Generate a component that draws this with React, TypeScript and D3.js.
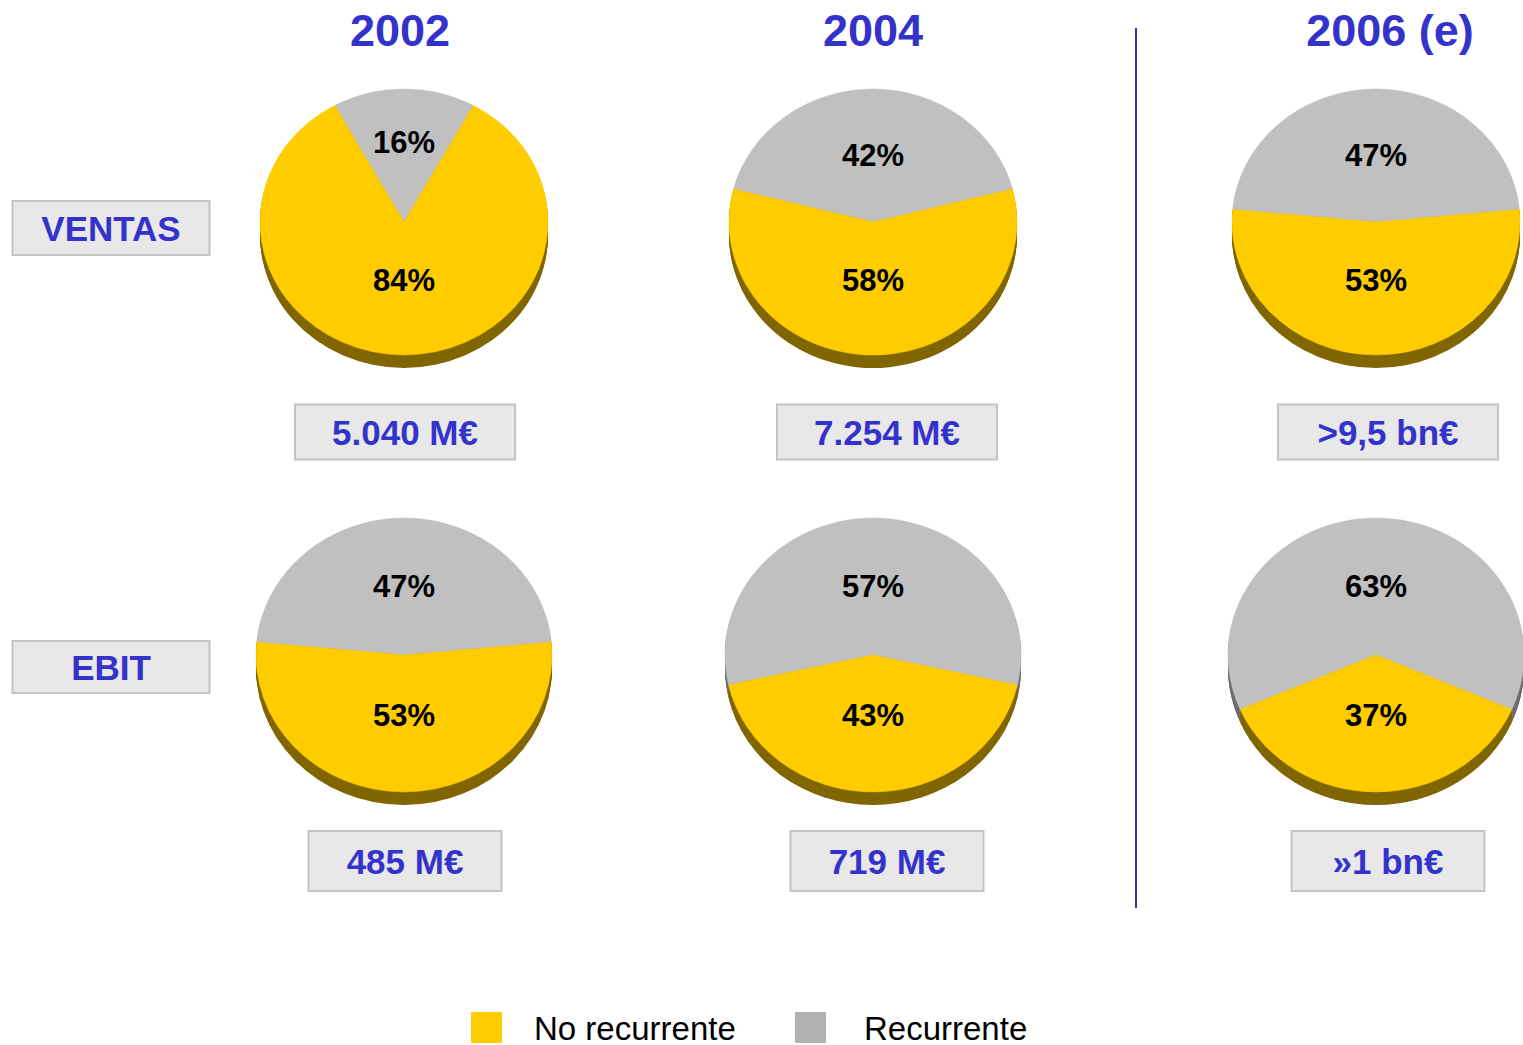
import * as d3 from 'd3';

// data
const years = ['2002', '2004', '2006 (e)'];
const metrics = ['VENTAS', 'EBIT'];
const recurrenteVentas = [16, 42, 47];
const noRecurrenteVentas = [84, 58, 53];
const recurrenteEbit = [47, 57, 63];
const noRecurrenteEbit = [53, 43, 37];
const totalesVentas = ['5.040 M€', '7.254 M€', '>9,5 bn€'];
const totalesEbit = ['485 M€', '719 M€', '»1 bn€'];
const seriesNames = ['No recurrente', 'Recurrente'];

const BLUE = '#3333cc';
const YELLOW = '#ffcc00';
const GRAY = '#c0c0c0';
const YELLOW_SIDE = '#806600';
const GRAY_SIDE = '#6e6e6e';
const FONT = '"Liberation Sans", Arial, sans-serif';

const width = 1523;
const height = 1045;

const titleX = d3.scaleOrdinal<string, number>().domain(years).range([400, 873, 1390]);
const colX = d3.scaleOrdinal<string, number>().domain(years).range([404, 873, 1376]);
const rowY = d3.scaleOrdinal<string, number>().domain(metrics).range([222, 655]);
const rowRx = d3.scaleOrdinal<string, number>().domain(metrics).range([144, 148]);
const rowRy = d3.scaleOrdinal<string, number>().domain(metrics).range([133, 137]);
const boxX = d3.scaleOrdinal<string, number>().domain(years).range([405, 887, 1388]);
const boxY = d3.scaleOrdinal<string, number>().domain(metrics).range([432, 861]);
const boxH = d3.scaleOrdinal<string, number>().domain(metrics).range([55, 60]);
const boxW = d3.scaleOrdinal<string, number>().domain(metrics).range([220, 193]);
const depth = 13;

type Slice = { name: string; value: number };

const Pie = ({ year, metric, rec, noRec }: { year: string; metric: string; rec: number; noRec: number }) => {
  const cx = colX(year);
  const cy = rowY(metric);
  const rx = rowRx(metric);
  const ry = rowRy(metric);
  const data: Slice[] = [
    { name: 'Recurrente', value: rec },
    { name: 'No recurrente', value: noRec },
  ];
  const start = -(rec / (rec + noRec)) * Math.PI;
  const arcs = d3
    .pie<Slice>()
    .sort(null)
    .value((d) => d.value)
    .startAngle(start)
    .endAngle(start + 2 * Math.PI)(data);
  const arc = d3.arc<d3.PieArcDatum<Slice>>().innerRadius(0).outerRadius(rx);
  const sy = ry / rx;
  const offsets = d3.range(depth, 0, -1);
  return (
    <g>
      {offsets.map((o) => (
        <g key={o} transform={`translate(${cx},${cy + o}) scale(1,${sy})`}>
          {arcs.map((a, i) => (
            <path key={i} d={arc(a) || ''} fill={a.data.name === 'Recurrente' ? GRAY_SIDE : YELLOW_SIDE} />
          ))}
        </g>
      ))}
      <g transform={`translate(${cx},${cy}) scale(1,${sy})`}>
        {arcs.map((a, i) => (
          <path
            key={i}
            d={arc(a) || ''}
            fill={a.data.name === 'Recurrente' ? GRAY : YELLOW}
            stroke={a.data.name === 'Recurrente' ? GRAY : YELLOW}
            strokeWidth={0.5}
          />
        ))}
      </g>
      {arcs.map((a, i) => {
        const frac = (a.endAngle - a.startAngle) / (2 * Math.PI);
        const lr = rx * (frac < 0.3 ? 0.6 : a.data.name === 'Recurrente' ? 0.5 : 0.44);
        const [lx, ly] = d3.arc<d3.PieArcDatum<Slice>>().innerRadius(lr).outerRadius(lr).centroid(a);
        return (
          <text
            key={'t' + i}
            x={cx + lx}
            y={cy + ly * sy}
            textAnchor='middle'
            dominantBaseline='central'
            fontFamily={FONT}
            fontWeight='bold'
            fontSize={31}
            fill='#000'
          >
            {a.data.value}%
          </text>
        );
      })}
    </g>
  );
};

const Box = ({ x, y, w, h, label }: { x: number; y: number; w: number; h: number; label: string }) => (
  <g>
    <rect x={x - w / 2} y={y - h / 2} width={w} height={h} fill='#e8e8e8' stroke='#c4c4c4' strokeWidth={2} />
    <text x={x} y={y} textAnchor='middle' dominantBaseline='central' fontFamily={FONT} fontWeight='bold' fontSize={35} fill={BLUE}>
      {label}
    </text>
  </g>
);

const App = () => {
  const rows = [
    { metric: 'VENTAS', rec: recurrenteVentas, noRec: noRecurrenteVentas, totals: totalesVentas },
    { metric: 'EBIT', rec: recurrenteEbit, noRec: noRecurrenteEbit, totals: totalesEbit },
  ];
  return (
    <svg width={width} height={height} style={{ position: 'absolute', left: 0, top: 0, background: '#fff' }}>
      {years.map((y) => (
        <text
          key={y}
          x={titleX(y)}
          y={30}
          textAnchor='middle'
          dominantBaseline='central'
          fontFamily={FONT}
          fontWeight='bold'
          fontSize={45}
          fill={BLUE}
        >
          {y}
        </text>
      ))}
      <line x1={1136} x2={1136} y1={28} y2={908} stroke='#3333aa' strokeWidth={2} />
      {rows.map((r) => (
        <g key={r.metric}>
          <Box x={111} y={r.metric === 'VENTAS' ? 228 : 667} w={197} h={r.metric === 'VENTAS' ? 54 : 52} label={r.metric} />
          {years.map((y, i) => (
            <g key={y}>
              <Pie year={y} metric={r.metric} rec={r.rec[i]} noRec={r.noRec[i]} />
              <Box x={boxX(y)} y={boxY(r.metric)} w={boxW(r.metric)} h={boxH(r.metric)} label={r.totals[i]} />
            </g>
          ))}
        </g>
      ))}
      {seriesNames.map((s, i) => (
        <g key={s} transform={`translate(${i === 0 ? 471 : 795},1012)`}>
          <rect width={31} height={31} fill={i === 0 ? YELLOW : '#b2b2b2'} />
          <text x={i === 0 ? 63 : 69} y={16} dominantBaseline='central' fontFamily={FONT} fontSize={33} fill='#000'>
            {s}
          </text>
        </g>
      ))}
    </svg>
  );
};

export default App;
